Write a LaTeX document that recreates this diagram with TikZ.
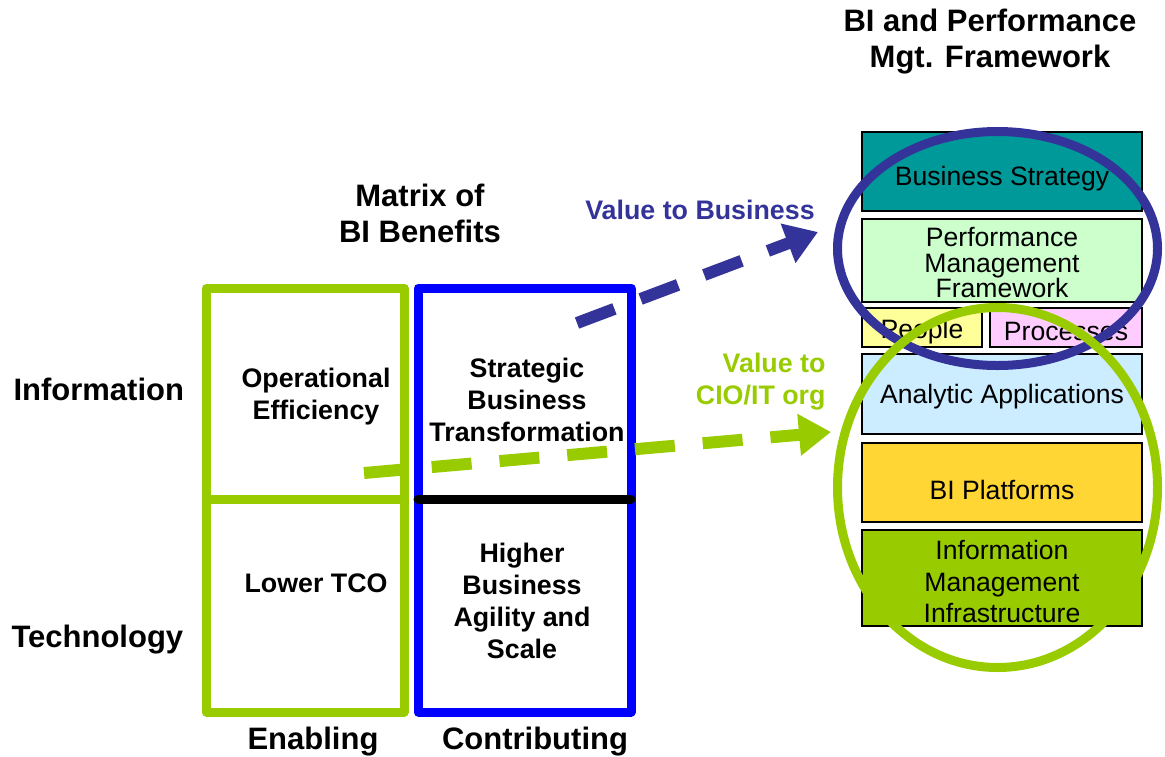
\documentclass[tikz,border=0pt]{standalone}
\usepackage{fontspec}
\setmainfont{Liberation Sans}
\usetikzlibrary{arrows.meta, shapes.geometric}

\definecolor{bizblue}{HTML}{333399}
\definecolor{itgreen}{HTML}{99CC00}
\definecolor{matblue}{HTML}{0000FF}
\definecolor{stratteal}{HTML}{009999}
\definecolor{pmfgreen}{HTML}{CCFFCC}
\definecolor{peopleyel}{HTML}{FFFF99}
\definecolor{procpink}{HTML}{FFCCFF}
\definecolor{appblue}{HTML}{CCECFF}
\definecolor{platgold}{HTML}{FFD633}

\tikzset{
	layer/.style={draw=black, line width=1.2pt, inner sep=0pt},
	layertext/.style={align=center, inner sep=0pt, font=\fontsize{26.6}{31.5}\selectfont},
	cell/.style={align=center, font=\bfseries\fontsize{26.8}{32}\selectfont},
	heading/.style={align=center, font=\bfseries\fontsize{31}{36}\selectfont},
	ring/.style={ellipse, line width=9pt, inner sep=0pt},
	valuearrow/.style={line width=12pt, dash pattern=on 40pt off 28pt,
		-{Triangle[length=32pt, width=40pt]}},
}

\begin{document}
\begin{tikzpicture}[x=1pt, y=-1pt]
	\useasboundingbox (0, 0) rectangle (1165, 756);

	% framework stack
	\node[heading] (fwtitle) at (990, 42) {BI and Performance\\Mgt. Framework};
	\node[layer, fill=stratteal, minimum width=280pt, minimum height=79pt] (strategy) at (1002, 171.5) {};
	\node[layer, fill=pmfgreen, minimum width=280pt, minimum height=83pt] (pmf) at (1002, 260.5) {};
	\node[layer, fill=peopleyel, minimum width=120pt, minimum height=39pt] (people) at (922, 327.5) {};
	\node[layer, fill=procpink, minimum width=152pt, minimum height=39pt] (processes) at (1066, 327.5) {};
	\node[layer, fill=appblue, minimum width=280pt, minimum height=80pt] (apps) at (1002, 394) {};
	\node[layer, fill=platgold, minimum width=280pt, minimum height=79pt] (platforms) at (1002, 482.5) {};
	\node[layer, fill=itgreen, minimum width=280pt, minimum height=96pt] (infra) at (1002, 578) {};

	\node[layertext, yshift=-7pt] at (strategy) {Business Strategy};
	\node[layertext, yshift=-2pt, font=\fontsize{26.6}{25.5}\selectfont] at (pmf) {Performance\\Management\\Framework};
	\node[layertext, yshift=-4pt] at (people) {People};
	\node[layertext, yshift=-4pt] at (processes) {Processes};
	\node[layertext, yshift=-3pt] at (apps) {Analytic Applications};
	\node[layertext, yshift=-7pt] at (platforms) {BI Platforms};
	\node[layertext, yshift=-3.5pt] at (infra) {Information\\Management\\Infrastructure};

	% value rings
	\node[ring, draw=bizblue, minimum width=320pt, minimum height=234pt] (bizring) at (997.5, 248.5) {};
	\node[ring, draw=itgreen, minimum width=320pt, minimum height=360pt] (itring) at (997.5, 487.5) {};

	% benefits matrix
	\node[heading] (mattitle) at (420, 213) {Matrix of\\BI Benefits};
	\draw[itgreen, line width=9pt, line join=round] (206, 288) rectangle (404, 712);
	\draw[itgreen, line width=9pt] (206, 499) -- (404, 499);
	\draw[matblue, line width=9pt, line join=round] (418, 288) rectangle (631, 712);
	\draw[black, line width=9pt, line cap=round] (418, 499) -- (631, 499);

	\node[cell] (opeff) at (316, 397) {Operational\\Efficiency};
	\node[cell] (lowtco) at (316, 583) {Lower TCO};
	\node[cell] (sbt) at (527, 400) {Strategic\\Business\\Transformation};
	\node[cell] (agility) at (522, 601) {Higher\\Business\\Agility and\\Scale};

	\node[heading, anchor=west] (info) at (10, 389) {Information};
	\node[heading, anchor=west] (tech) at (8, 640) {Technology};
	\node[heading] (enabling) at (313, 742) {Enabling};
	\node[heading] (contrib) at (535, 742) {Contributing};

	% value arrows
	\coordinate (bizfrom) at (577, 323);
	\coordinate (bizto) at (818, 232);
	\coordinate (itfrom) at (364, 473);
	\coordinate (itto) at (831, 432);
	\draw[valuearrow, bizblue] (bizfrom) -- (bizto);
	\draw[valuearrow, itgreen] (itfrom) -- (itto);
	\node[cell, text=bizblue] (bizlabel) at (700, 210) {Value to Business};
	\node[cell, text=itgreen, align=right, anchor=east] (itlabel) at (829, 382) {Value to\\CIO/IT org};
\end{tikzpicture}
\end{document}
